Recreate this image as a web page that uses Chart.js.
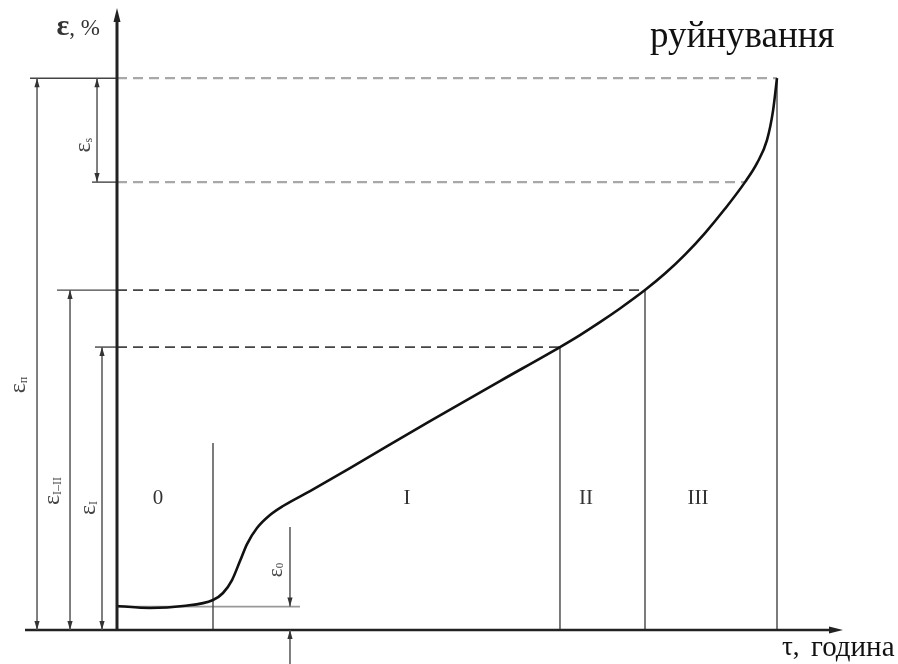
<!DOCTYPE html>
<html>
<head>
<meta charset="utf-8">
<script src="https://cdn.jsdelivr.net/npm/chart.js@4.4.1/dist/chart.umd.min.js"></script>
<style>
  html, body { margin: 0; padding: 0; background: #ffffff; }
  #wrap { width: 898px; height: 664px; }
</style>
</head>
<body>
<div id="wrap"><canvas id="c" width="898" height="664"></canvas></div>
<script>
// ---- data (schematic units) ----
const curveTau = [0, 0.55, 1.1, 1.6, 1.767, 1.917, 2.05, 2.167, 2.333, 2.55, 2.767, 3.217, 3.883, 5.217, 6.383, 7.383, 7.717, 8.05, 8.383, 8.8, 9.133, 9.467, 9.8, 10.133, 10.467, 10.667, 10.833, 10.933, 11.0];
const curveEps = [0.4, 0.367, 0.4, 0.5, 0.617, 0.833, 1.15, 1.433, 1.7, 1.917, 2.067, 2.317, 2.7, 3.483, 4.15, 4.717, 4.917, 5.132, 5.36, 5.667, 5.942, 6.258, 6.618, 7.022, 7.467, 7.783, 8.167, 8.65, 9.2];

const stageTau = [1.6, 7.383, 8.8, 11.0];          // boundaries 0|I, I|II, II|III, rupture
const stageTop = [3.117, 4.717, 5.667, 9.2];        // top of each boundary line
const stageLabels = ['0', 'I', 'II', 'III'];
const stageLabelTau = [0.683, 4.833, 7.817, 9.683];
const stageLabelEps = 2.2;

const eps0 = 0.39;
const epsI = 4.717;
const epsIII = 5.667;
const epsS = 7.467;     // start of the ε_s interval
const epsR = 9.2;       // rupture strain

const levelEps = [epsR, epsS, epsIII, epsI];
const levelEnd = [11.0, 10.467, 8.8, 7.383];
const levelLeft = [-1.45, -0.417, -1.0, -0.367];

const xMax = 12.1, yMax = 10.37;

// dimension arrows
const dims = [
  { x: -1.333, y0: 0, y1: epsR, label: 'п', lx: -1.617, ly: 4.083 },
  { x: -0.783, y0: 0, y1: epsIII, label: 'I–II', lx: -1.05, ly: 2.317 },
  { x: -0.25, y0: 0, y1: epsI, label: 'I', lx: -0.45, ly: 2.033 },
  { x: -0.333, y0: epsS, y1: epsR, label: 's', lx: -0.533, ly: 8.083 }
];

// ---- datasets ----
const datasets = [];
datasets.push({
  data: curveTau.map((t, i) => ({ x: t, y: curveEps[i] })),
  showLine: true, borderColor: '#111', borderWidth: 2.6, pointRadius: 0,
  cubicInterpolationMode: 'monotone', fill: false, order: 0
});
stageTau.forEach((t, i) => {
  datasets.push({
    data: [{ x: t, y: 0 }, { x: t, y: stageTop[i] }],
    showLine: true, borderColor: '#444', borderWidth: 1.4, pointRadius: 0, order: 2
  });
});
levelEps.forEach((e, i) => {
  datasets.push({
    data: [{ x: 0, y: e }, { x: levelEnd[i], y: e }],
    showLine: true, borderColor: i < 2 ? '#a8a8a8' : '#444', borderWidth: i < 2 ? 2.2 : 1.8,
    borderDash: [10, 6], pointRadius: 0, order: 3
  });
  datasets.push({
    data: [{ x: levelLeft[i], y: e }, { x: 0, y: e }],
    showLine: true, borderColor: '#444', borderWidth: 1.4, pointRadius: 0, clip: false, order: 3
  });
});
// ε0 horizontal reference line
datasets.push({
  data: [{ x: 0, y: eps0 }, { x: 3.05, y: eps0 }],
  showLine: true, borderColor: '#999', borderWidth: 1.6, pointRadius: 0, order: 3
});

function arrowHead(ctx, x, y, dir, len, hw) {
  ctx.beginPath();
  if (dir === 'up') { ctx.moveTo(x, y); ctx.lineTo(x - hw, y + len); ctx.lineTo(x + hw, y + len); }
  else if (dir === 'down') { ctx.moveTo(x, y); ctx.lineTo(x - hw, y - len); ctx.lineTo(x + hw, y - len); }
  else { ctx.moveTo(x, y); ctx.lineTo(x - len, y - hw); ctx.lineTo(x - len, y + hw); }
  ctx.closePath(); ctx.fill();
}

function epsLabel(ctx, cx, cy, sub, size) {
  ctx.save();
  ctx.translate(cx, cy);
  ctx.rotate(-Math.PI / 2);
  ctx.fillStyle = '#444';
  ctx.textBaseline = 'alphabetic';
  const subSize = Math.round(size * 0.5);
  ctx.font = size + 'px "Liberation Serif", serif';
  const w1 = ctx.measureText('ε').width;
  ctx.font = subSize + 'px "Liberation Serif", serif';
  const w2 = ctx.measureText(sub).width;
  const total = w1 + w2;
  ctx.font = size + 'px "Liberation Serif", serif';
  ctx.fillText('ε', -total / 2, size * 0.22);
  ctx.font = subSize + 'px "Liberation Serif", serif';
  ctx.fillText(sub, -total / 2 + w1, size * 0.3);
  ctx.restore();
}

const overlay = {
  id: 'overlay',
  afterDatasetsDraw(chart) {
    const ctx = chart.ctx;
    const xs = chart.scales.x, ys = chart.scales.y;
    const X = v => xs.getPixelForValue(v), Y = v => ys.getPixelForValue(v);
    ctx.save();
    // axes
    ctx.strokeStyle = '#222'; ctx.fillStyle = '#222';
    ctx.lineWidth = 3;
    ctx.beginPath(); ctx.moveTo(X(0), Y(0) + 1); ctx.lineTo(X(0), Y(yMax) + 10); ctx.stroke();
    arrowHead(ctx, X(0), Y(yMax), 'up', 14, 3.5);
    ctx.lineWidth = 2.6;
    ctx.beginPath(); ctx.moveTo(X(-1.533), Y(0)); ctx.lineTo(X(xMax) - 10, Y(0)); ctx.stroke();
    arrowHead(ctx, X(xMax), Y(0), 'right', 14, 3.5);

    // dimension arrows
    ctx.strokeStyle = '#555'; ctx.fillStyle = '#333'; ctx.lineWidth = 1.5;
    dims.forEach(d => {
      ctx.beginPath(); ctx.moveTo(X(d.x), Y(d.y0)); ctx.lineTo(X(d.x), Y(d.y1)); ctx.stroke();
      arrowHead(ctx, X(d.x), Y(d.y1), 'up', 9, 2.6);
      arrowHead(ctx, X(d.x), Y(d.y0), 'down', 9, 2.6);
      epsLabel(ctx, X(d.lx), Y(d.ly), d.label, 24);
    });
    // ε0 arrows
    const x0 = X(2.883);
    ctx.beginPath(); ctx.moveTo(x0, Y(1.717)); ctx.lineTo(x0, Y(eps0)); ctx.stroke();
    arrowHead(ctx, x0, Y(eps0), 'down', 9, 2.6);
    ctx.beginPath(); ctx.moveTo(x0, Y(-0.567)); ctx.lineTo(x0, Y(0)); ctx.stroke();
    arrowHead(ctx, x0, Y(0), 'up', 9, 2.6);
    epsLabel(ctx, X(2.667), Y(1.0), '0', 21);

    // stage labels
    ctx.fillStyle = '#333';
    ctx.font = '21px "Liberation Serif", serif';
    ctx.textAlign = 'center'; ctx.textBaseline = 'middle';
    stageLabels.forEach((s, i) => ctx.fillText(s, X(stageLabelTau[i]), Y(stageLabelEps)));

    // y axis title
    ctx.fillStyle = '#333';
    ctx.textBaseline = 'alphabetic'; ctx.textAlign = 'left';
    ctx.font = 'bold 30px "Liberation Serif", serif';
    const ew = ctx.measureText('ε').width;
    ctx.font = '23px "Liberation Serif", serif';
    const rw = ctx.measureText(', %').width;
    const tx = X(-0.283) - ew - rw;
    ctx.font = 'bold 30px "Liberation Serif", serif';
    ctx.fillText('ε', tx, 35);
    ctx.font = '23px "Liberation Serif", serif';
    ctx.fillText(', %', tx + ew, 35);

    // x axis title
    ctx.fillStyle = '#111';
    ctx.font = '27px "Liberation Serif", serif';
    ctx.fillText('τ,', 782, 655);
    ctx.font = '29px "Liberation Serif", serif';
    ctx.fillText('година', 811, 656);

    ctx.font = '37px "Liberation Serif", serif';
    ctx.fillText('руйнування', 650, 47);
    ctx.restore();
  }
};

new Chart(document.getElementById('c'), {
  type: 'scatter',
  data: { datasets },
  options: {
    responsive: false,
    animation: false,
    layout: { padding: { left: 117, right: 55, top: 8, bottom: 34 } },
    plugins: { legend: { display: false }, tooltip: { enabled: false } },
    scales: {
      x: { type: 'linear', min: 0, max: xMax, display: false },
      y: { type: 'linear', min: 0, max: yMax, display: false }
    }
  },
  plugins: [overlay]
});
</script>
</body>
</html>
